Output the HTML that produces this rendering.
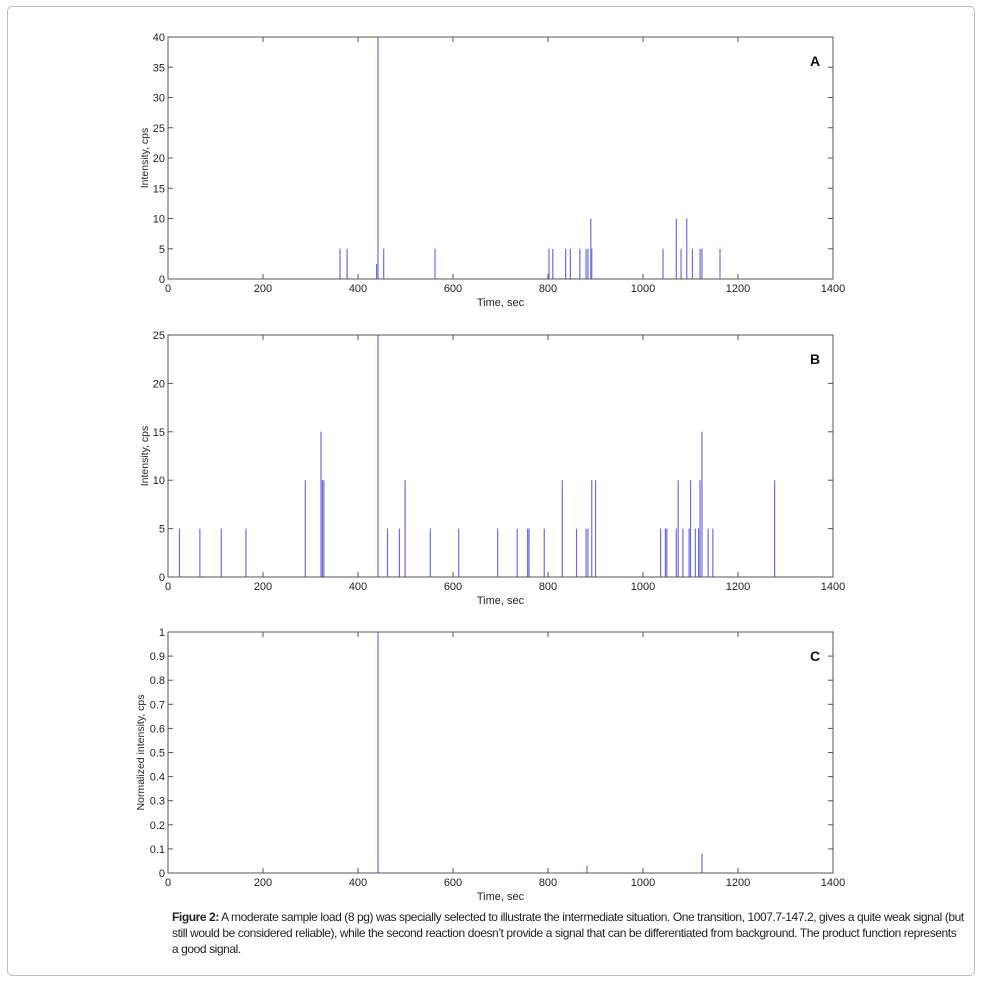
<!DOCTYPE html>
<html><head><meta charset="utf-8"><style>
body{margin:0;background:#fff;width:981px;height:981px;overflow:hidden;font-family:"Liberation Sans",sans-serif}
#frame{position:absolute;left:7px;top:6px;width:966px;height:968px;border:1px solid #bbb;border-radius:5px}
#cap{position:absolute;left:172px;top:909px;font-size:12px;line-height:16px;color:#222;letter-spacing:-0.42px;white-space:nowrap}
svg{position:absolute;left:0;top:0}
</style></head><body>
<div id="frame"></div>
<svg id="s" width="981" height="981"></svg>
<div id="cap"><b>Figure 2:</b> A moderate sample load (8 pg) was specially selected to illustrate the intermediate situation. One transition, 1007.7-147.2, gives a quite weak signal (but<br>still would be considered reliable), while the second reaction doesn’t provide a signal that can be differentiated from background. The product function represents<br>a good signal.</div>
<script>
const xTicks=[0,200,400,600,800,1000,1200,1400];
const aTimes=[360,375,437,440,452,560,800,808,835,845,865,878,882,888,890,1040,1068,1078,1090,1102,1118,1122,1160];
const aVals=[5,5,2.5,40,5,5,5,5,5,5,5,5,5,10,5,5,10,5,10,5,5,5,5];
const aTicks=[0,5,10,15,20,25,30,35,40];
const bTimes=[22,65,110,162,287,320,323,326,440,460,485,497,550,610,692,733,755,758,790,828,858,878,882,890,898,1035,1045,1048,1068,1072,1082,1095,1098,1108,1115,1118,1122,1135,1145,1275];
const bVals=[5,5,5,5,10,15,10,10,25,5,5,10,5,5,5,5,5,5,5,10,5,5,5,10,10,5,5,5,5,10,5,5,10,5,5,10,15,5,5,10];
const bTicks=[0,5,10,15,20,25];
const cTimes=[440,880,1122];
const cVals=[1.0,0.03,0.08];
const cTicks=[0,0.1,0.2,0.3,0.4,0.5,0.6,0.7,0.8,0.9,1];
const NS='http://www.w3.org/2000/svg';
const svg=document.getElementById('s');
function mk(tag,attrs,parent){const e=document.createElementNS(NS,tag);for(const k in attrs)e.setAttribute(k,attrs[k]);(parent||svg).appendChild(e);return e;}
function panel(id,top,bottom,yMax,times,vals,ticks,ylab,letter,ylx){
 const L=168,R=833;
 const g=mk('g',{});
 
 
 const xs=v=>L+1+(v/1400)*(R-L);
 const ys=v=>bottom-(v/yMax)*(bottom-top);
 for(let i=0;i<times.length;i++){
  const l=mk('line',{x1:xs(times[i]),x2:xs(times[i]),y1:bottom,y2:ys(vals[i]),stroke:'#6d6de0','stroke-width':1.2},g);
  
  
 }
 const box=mk('rect',{x:L,y:top,width:R-L,height:bottom-top,fill:'none',stroke:'#555','stroke-width':1},g);
 
 
 xTicks.forEach(t=>{const x=L+(t/1400)*(R-L);
  mk('line',{x1:x,x2:x,y1:bottom,y2:bottom-5,stroke:'#555'},g);
  mk('line',{x1:x,x2:x,y1:top,y2:top+5,stroke:'#555'},g);
  const tx=mk('text',{x:x,y:bottom+13,'font-size':11,'text-anchor':'middle',fill:'#222'},g);tx.textContent=t;
  
  
 });
 ticks.forEach(t=>{const y=ys(t);
  mk('line',{x1:L,x2:L+5,y1:y,y2:y,stroke:'#555'},g);
  mk('line',{x1:R,x2:R-5,y1:y,y2:y,stroke:'#555'},g);
  const tx=mk('text',{x:L-3,y:y+4,'font-size':11,'text-anchor':'end',fill:'#222'},g);tx.textContent=t;
  
  
 });
 const xl=mk('text',{x:(L+R)/2,y:bottom+27,'font-size':11,'text-anchor':'middle',fill:'#222'},g);xl.textContent='Time, sec';
 
 
 const cy=(top+bottom)/2;
 const yl=mk('text',{x:ylx,y:cy,'font-size':10.5,'text-anchor':'middle',fill:'#222',transform:`rotate(-90 ${ylx} ${cy})`},g);yl.textContent=ylab;
 
 
 const lt=mk('text',{x:815,y:top+29,'font-size':14,'font-weight':'bold','text-anchor':'middle',fill:'#111'},g);lt.textContent=letter;
 
 
}
panel('a',37,279,40,aTimes,aVals,aTicks,'Intensity, cps','A',148);
panel('b',335,577,25,bTimes,bVals,bTicks,'Intensity, cps','B',148);
panel('c',632,873,1,cTimes,cVals,cTicks,'Normalized intensity, cps','C',144);
</script>
</body></html>
